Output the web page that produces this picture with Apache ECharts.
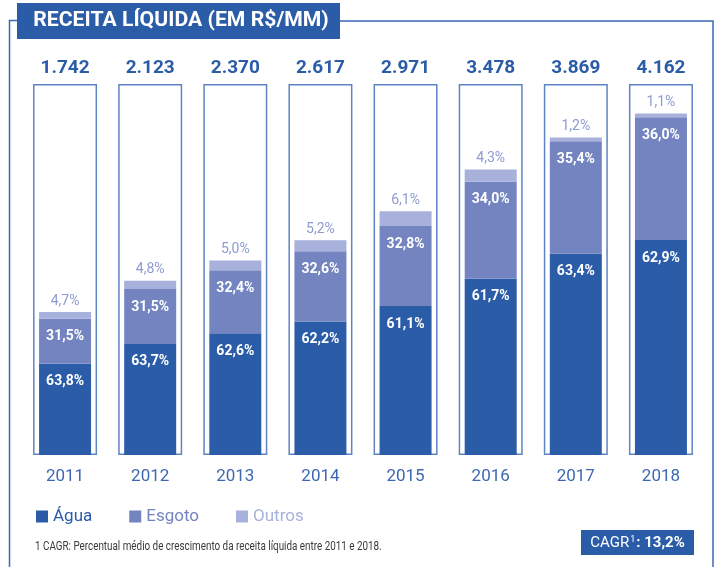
<!DOCTYPE html>
<html>
<head>
<meta charset="utf-8">
<script src="https://cdn.jsdelivr.net/npm/echarts@6/dist/echarts.min.js"></script>
<style>
  html, body { margin: 0; padding: 0; background: #fff; }
  #chart { width: 715px; height: 567px; }
</style>
</head>
<body>
<div id="chart"></div>
<script>
// dados
const years = ["2011", "2012", "2013", "2014", "2015", "2016", "2017", "2018"];
const totals = [1742, 2123, 2370, 2617, 2971, 3478, 3869, 4162];
const totalLabels = ["1.742", "2.123", "2.370", "2.617", "2.971", "3.478", "3.869", "4.162"];
const aguaPct = [63.8, 63.7, 62.6, 62.2, 61.1, 61.7, 63.4, 62.9];
const esgotoPct = [31.5, 31.5, 32.4, 32.6, 32.8, 34.0, 35.4, 36.0];
const outrosPct = [4.7, 4.8, 5.0, 5.2, 6.1, 4.3, 1.2, 1.1];
const boxMax = 4520;

const AGUA = "#2b5ca8";
const ESGOTO = "#7384c1";
const OUTROS = "#a7b1db";
const FONT = "Roboto, 'DejaVu Sans', sans-serif";

const fmtPct = (v) => v.toFixed(1).replace(".", ",") + "%";
const part = (pct) => pct.map((p, i) => ({ value: (totals[i] * p) / 100, pct: p }));

const chart = echarts.init(document.getElementById("chart"));

const pctLabel = {
  show: true,
  position: "insideTop",
  distance: 11,
  color: "#fff",
  fontSize: 14,
  fontWeight: "bold",
  fontFamily: FONT,
  formatter: (p) => fmtPct(p.data.pct),
};

const option = {
  animation: false,
  grid: { left: 22.5, right: 11.5, top: 84, bottom: 112 },
  xAxis: [
    {
      type: "category",
      data: years,
      axisLine: { show: false },
      axisTick: { show: false },
      axisLabel: { color: "#3d68b1", fontSize: 17, fontFamily: FONT, margin: 13 },
    },
    { type: "category", data: years, show: false },
  ],
  yAxis: { type: "value", min: 0, max: boxMax, show: false },
  legend: {
    left: 31,
    top: 503,
    itemWidth: 12,
    itemHeight: 12,
    itemGap: 37,
    icon: "rect",
    textStyle: { fontSize: 17, fontFamily: FONT },
    data: [
      { name: "Água", textStyle: { color: AGUA } },
      { name: "Esgoto", textStyle: { color: ESGOTO } },
      { name: "Outros", textStyle: { color: OUTROS } },
    ],
  },
  series: [
    {
      name: "box",
      type: "bar",
      xAxisIndex: 1,
      barWidth: 64,
      silent: true,
      z: 1,
      itemStyle: { color: "#fff", borderColor: "#5f84c4", borderWidth: 1.5 },
      label: {
        show: true,
        position: "top",
        distance: 6,
        color: AGUA,
        fontSize: 19,
        fontWeight: "bold",
        fontFamily: FONT,
        formatter: (p) => totalLabels[p.dataIndex],
      },
      data: years.map(() => boxMax),
    },
    {
      name: "Água",
      type: "bar",
      stack: "receita",
      barWidth: 52,
      z: 3,
      itemStyle: { color: AGUA },
      label: pctLabel,
      data: part(aguaPct),
    },
    {
      name: "Esgoto",
      type: "bar",
      stack: "receita",
      barWidth: 52,
      z: 3,
      itemStyle: { color: ESGOTO },
      label: pctLabel,
      data: part(esgotoPct),
    },
    {
      name: "Outros",
      type: "bar",
      stack: "receita",
      barWidth: 52,
      z: 3,
      itemStyle: { color: OUTROS },
      label: {
        show: true,
        position: "top",
        distance: 4,
        color: "#8d9bd1",
        fontSize: 14,
        fontFamily: FONT,
        formatter: (p) => fmtPct(p.data.pct),
      },
      data: part(outrosPct),
    },
  ],
  graphic: [
    // moldura
    {
      type: "polyline",
      shape: { points: [[17, 20.5], [9.5, 20.5], [9.5, 567]] },
      style: { stroke: "#3d68b1", lineWidth: 1.5, fill: null },
    },
    {
      type: "polyline",
      shape: { points: [[340, 21], [713, 21], [713, 567]] },
      style: { stroke: "#3d68b1", lineWidth: 1.5, fill: null },
    },
    // título
    {
      type: "rect",
      shape: { x: 17, y: 3, width: 323, height: 36 },
      style: { fill: AGUA },
    },
    {
      type: "text",
      x: 181,
      y: 21,
      scaleX: 1.06,
      style: {
        text: "RECEITA LÍQUIDA (EM R$/MM)",
        fill: "#fff",
        font: "bold 20px " + FONT,
        align: "center",
        verticalAlign: "middle",
      },
    },
    // nota
    {
      type: "text",
      x: 35,
      y: 547,
      scaleX: 0.73,
      style: {
        text: "1 CAGR: Percentual médio de crescimento da receita líquida entre 2011 e 2018.",
        fill: "#3a3a3a",
        font: "13.5px " + FONT,
        verticalAlign: "middle",
      },
    },
    // CAGR
    {
      type: "rect",
      shape: { x: 581, y: 530, width: 113, height: 25 },
      style: { fill: AGUA },
    },
    {
      type: "text",
      x: 637.5,
      y: 543,
      style: {
        text: "{n|CAGR}{s|1}{b|: 13,2%}",
        align: "center",
        verticalAlign: "middle",
        rich: {
          n: { fill: "#fff", font: "15px " + FONT },
          s: { fill: "#fff", font: "9px " + FONT, verticalAlign: "top", padding: [0, 1, 6, 1] },
          b: { fill: "#fff", font: "bold 15px " + FONT },
        },
      },
    },
  ],
};

chart.setOption(option);
</script>
</body>
</html>
